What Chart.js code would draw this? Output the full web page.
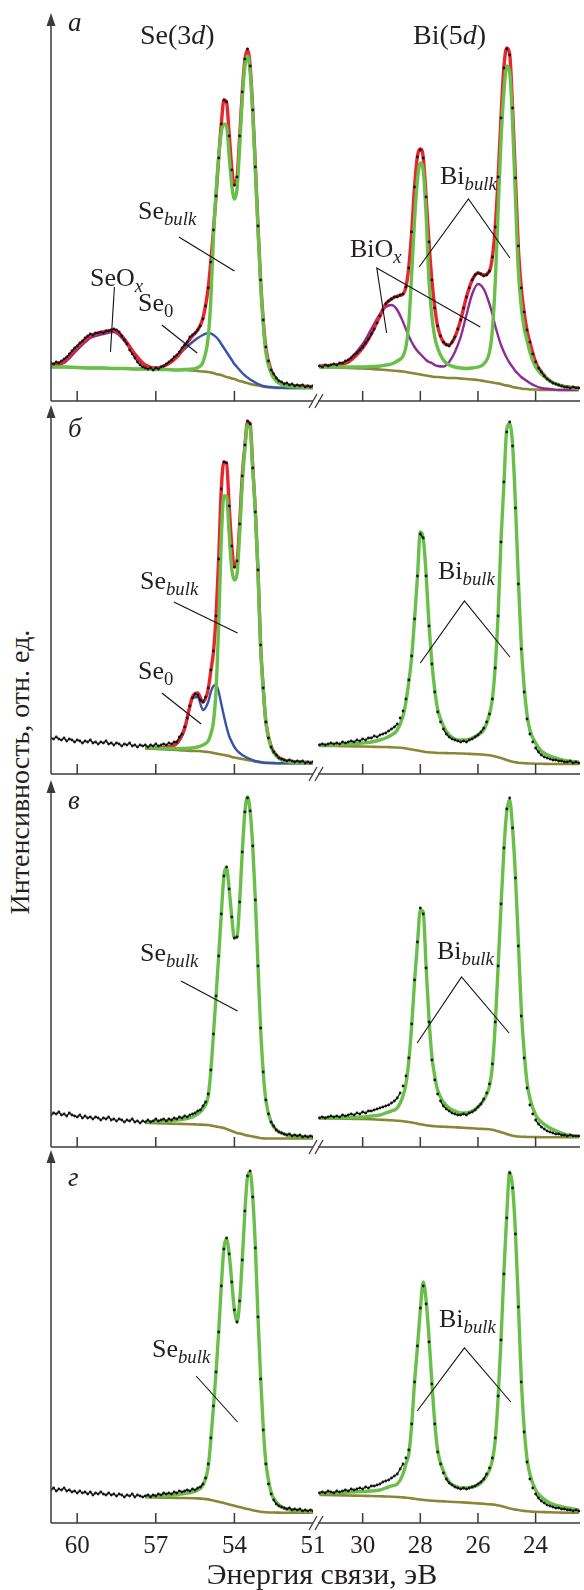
<!DOCTYPE html>
<html>
<head>
<meta charset="utf-8">
<script src="https://cdn.jsdelivr.net/npm/chart.js@4.4.1/dist/chart.umd.min.js"></script>
<style>
html, body { margin: 0; padding: 0; background: #fff; }
#page { position: relative; width: 584px; height: 1590px; overflow: hidden;
        font-family: "Liberation Serif", "Times New Roman", serif; color: #231f20; }
#page canvas { position: absolute; }
.lbl { position: absolute; white-space: nowrap; font-size: 26px; line-height: 26px; }
.lbl sub { font-size: 0.72em; vertical-align: baseline; position: relative; top: 0.3em; }
</style>
</head>
<body>
<div id="page"></div>
<script>
// tick labels
const seTicks = [60, 57, 54, 51];
const biTicks = [30, 28, 26, 24];

// energy grid of the measured points (eV)
const seE = [
  61.0, 60.9, 60.8, 60.7, 60.6, 60.5, 60.4, 60.3, 60.2, 60.1,
  60.0, 59.9, 59.8, 59.7, 59.6, 59.5, 59.4, 59.3, 59.2, 59.1,
  59.0, 58.9, 58.8, 58.7, 58.6, 58.5, 58.4, 58.3, 58.2, 58.1,
  58.0, 57.9, 57.8, 57.7, 57.6, 57.5, 57.4, 57.3, 57.2, 57.1,
  57.0, 56.9, 56.8, 56.7, 56.6, 56.5, 56.4, 56.3, 56.2, 56.1,
  56.0, 55.9, 55.8, 55.7, 55.6, 55.5, 55.4, 55.3, 55.2, 55.1,
  55.0, 54.9, 54.8, 54.7, 54.6, 54.5, 54.4, 54.3, 54.2, 54.1,
  54.0, 53.9, 53.8, 53.7, 53.6, 53.5, 53.4, 53.3, 53.2, 53.1,
  53.0, 52.9, 52.8, 52.7, 52.6, 52.5, 52.4, 52.3, 52.2, 52.1,
  52.0, 51.9, 51.8, 51.7, 51.6, 51.5, 51.4, 51.3, 51.2, 51.1,
  51.0];
const biE = [
  31.5, 31.4, 31.3, 31.2, 31.1, 31.0, 30.9, 30.8, 30.7, 30.6,
  30.5, 30.4, 30.3, 30.2, 30.1, 30.0, 29.9, 29.8, 29.7, 29.6,
  29.5, 29.4, 29.3, 29.2, 29.1, 29.0, 28.9, 28.8, 28.7, 28.6,
  28.5, 28.4, 28.3, 28.2, 28.1, 28.0, 27.9, 27.8, 27.7, 27.6,
  27.5, 27.4, 27.3, 27.2, 27.1, 27.0, 26.9, 26.8, 26.7, 26.6,
  26.5, 26.4, 26.3, 26.2, 26.1, 26.0, 25.9, 25.8, 25.7, 25.6,
  25.5, 25.4, 25.3, 25.2, 25.1, 25.0, 24.9, 24.8, 24.7, 24.6,
  24.5, 24.4, 24.3, 24.2, 24.1, 24.0, 23.9, 23.8, 23.7, 23.6,
  23.5, 23.4, 23.3, 23.2, 23.1, 23.0, 22.9, 22.8, 22.7, 22.6,
  22.5];

// energy grid of the fitted curves (eV)
const seFitE = [61, 60.5, 60, 59.5, 59, 58.6, 58.2, 57.8, 57.4, 57,
  56.6, 56.2, 55.9, 55.6, 55.4, 55.2, 55.0, 54.9, 54.8, 54.7,
  54.6, 54.5, 54.4, 54.3, 54.2, 54.1, 54.0, 53.9, 53.8, 53.7,
  53.6, 53.5, 53.4, 53.3, 53.2, 53.1, 53.0, 52.9, 52.8, 52.6,
  52.4, 52.2, 52.0, 51.5, 51.0];
const biFitE = [31.5, 31.0, 30.5, 30.0, 29.7, 29.4, 29.2, 29.0, 28.8, 28.6,
  28.5, 28.4, 28.3, 28.2, 28.1, 28.0, 27.9, 27.8, 27.7, 27.6,
  27.5, 27.4, 27.2, 27.0, 26.8, 26.6, 26.4, 26.2, 26.0, 25.8,
  25.6, 25.5, 25.4, 25.3, 25.2, 25.1, 25.0, 24.9, 24.8, 24.7,
  24.6, 24.5, 24.4, 24.3, 24.2, 24.0, 23.8, 23.5, 23.2, 22.9,
  22.5];

// ---- panel a ----
const seExpA = [
  29, 28, 30, 29, 31, 33, 35, 38, 41, 44,
  46, 49, 51, 54, 56, 58, 57, 59, 59, 60,
  59, 61, 61, 62, 63, 62, 60, 56, 52, 48,
  42, 38, 34, 30, 27, 25, 24, 23, 24, 22,
  24, 23, 25, 26, 28, 30, 32, 35, 37, 40,
  44, 47, 50, 55, 57, 59, 62, 66, 73, 86,
  104, 130, 162, 196, 234, 268, 292, 290, 256, 222,
  207, 215, 256, 300, 333, 343, 326, 282, 225, 166,
  112, 72, 45, 31, 22, 18, 14, 11, 10, 8,
  9, 7, 8, 6, 7, 6, 7, 5, 6, 5,
  6];
const seEnvA = [27, 31, 45, 56, 60, 62, 53, 38, 27, 24,
  27, 35, 46, 56, 62, 74, 104, 130, 162, 196,
  234, 268, 292, 290, 258, 224, 207, 214, 255, 300,
  332, 342, 326, 283, 226, 167, 112, 72, 44, 22,
  13, 9, 7, 6, 5.5];
const seBulkA = [25, 25, 24.5, 24, 24, 23.5, 23.5, 23, 23, 22.5,
  22.5, 22, 22.5, 23, 24.5, 30, 55, 92, 155, 200,
  235, 260, 268, 266, 236, 207, 193, 203, 245, 293,
  326, 336, 320, 278, 222, 163, 108, 68, 40, 19,
  11, 7.5, 6, 5, 4.5];
const seZeroA = [null, null, null, null, null, null, null, null, 23, 23.5,
  27, 35, 43, 50, 54, 57, 59, 58.5, 57, 55,
  52, 48, 44, 40, 36, 32, 28, 25, 22, 19,
  16.5, 14.5, 12.5, 11, 9.5, 8, 7, 6, 5.5, 5,
  4.5, 4.2, 4, 4, 4];
const seOxA = [26, 29, 42, 54, 58, 60, 51, 36, 26, 23.5, 22.5];
const seBgA = [25, 25, 24.5, 24, 24, 23.5, 23.5, 23, 23, 22.5,
  22.5, 22, 22, 21.5, 21, 20.5, 20, 19.5, 19, 18,
  17.5, 17, 16, 15, 14.5, 13.5, 13, 12, 11, 10.5,
  9.5, 9, 8, 7.5, 7, 6.5, 6, 5.5, 5, 4.5,
  4, 4, 4, 4, 4];

const biExpA = [
  26, 25, 27, 26, 27, 28, 27, 29, 29, 31,
  32, 34, 37, 39, 42, 45, 49, 53, 58, 63,
  69, 76, 82, 88, 91, 93, 95, 95, 97, 98,
  105, 124, 160, 205, 235, 242, 234, 195, 150, 112,
  84, 66, 56, 50, 47, 46, 50, 55, 63, 72,
  84, 95, 104, 112, 117, 119, 118, 116, 117, 121,
  135, 165, 215, 274, 324, 343, 337, 284, 214, 146,
  104, 80, 62, 50, 38, 30, 24, 20, 16, 13,
  11, 9, 8, 7, 6, 5, 5, 4, 5, 4,
  4];
const biEnvA = [26, 27, 30, 44, 58, 76, 88, 93, 96, 98,
  105, 125, 160, 205, 236, 243, 235, 195, 150, 112,
  85, 66, 50, 47, 55, 72, 95, 112, 119, 117,
  121, 135, 165, 215, 275, 325, 344, 338, 285, 215,
  145, 105, 80, 62, 50, 30, 20, 11, 7, 5,
  4];
const biBulkA = [25, 25, 25, 25, 25.5, 26, 27, 28, 31, 36,
  45, 68, 118, 172, 212, 229, 222, 178, 112, 76,
  55, 44, 32, 27, 25, 24, 23.5, 24, 25, 28,
  40, 62, 110, 182, 252, 300, 326, 320, 270, 195,
  122, 86, 64, 52, 40, 25, 18, 11, 7, 5,
  3];
const biOxA = [25, 26, 32, 48, 63, 78, 85, 87, 82, 70,
  63, 56, 50, 45, 41, 38, 35, 32, 30, 29,
  27, 26, 25.5, 30, 40, 55, 77, 98, 108, 103,
  88, 78, 66, 56, 47, 40, 34, 29, 25, 21,
  18, 15, 13, 11, 9, 6, 4, 3, 2, 2,
  2];
const biBgA = [25, 24.5, 24, 23.5, 23, 22.5, 22, 21.5, 21, 20.5,
  20, 19.5, 19, 18.5, 18, 17.5, 17, 16.5, 16, 15.5,
  15, 15, 14.5, 14, 14, 13.5, 13, 12.5, 12, 11,
  10, 9.5, 9, 8.5, 8, 7, 6.5, 6, 5, 4.5,
  4, 3.5, 3, 3, 2.5, 2.5, 2, 2, 2, 2,
  2];

// ---- panel б ----
const seExpB = [
  36, 35, 37, 35, 34, 36, 33, 35, 34, 32,
  34, 33, 31, 33, 32, 34, 31, 32, 30, 32,
  31, 33, 30, 31, 29, 31, 30, 28, 30, 29,
  31, 28, 29, 27, 29, 28, 29, 27, 29, 28,
  30, 28, 29, 30, 29, 31, 30, 32, 32, 37,
  40, 47, 56, 68, 76, 80, 79, 74, 72, 77,
  86, 104, 123, 158, 215, 285, 312, 311, 268, 228,
  207, 213, 250, 298, 329, 353, 350, 306, 262, 204,
  129, 86, 52, 36, 27, 22, 19, 16, 15, 14,
  13, 14, 13, 12, 13, 12, 13, 11, 12, 11,
  12];
const seEnvB = [null, null, null, null, null, null, null, null, 26, 26,
  27, 31, 46, 77, 81, 72, 85, 103, 122, 158,
  215, 285, 312, 311, 268, 228, 207, 212, 250, 298,
  328, 352, 350, 307, 263, 204, 129, 86, 53, 28,
  19, 15, 13, 12, 11.5];
const seBulkB = [null, null, null, null, null, null, null, null, 26, 26,
  25.5, 25.5, 25.5, 26, 27, 29, 33, 40, 52, 84,
  150, 235, 278, 278, 240, 205, 194, 200, 240, 290,
  325, 349, 347, 305, 262, 203, 128, 85, 52, 27,
  18, 14, 12.5, 11.5, 11];
const seZeroB = [null, null, null, null, null, null, null, null, 25.5, 25.5,
  26, 30, 44, 76, 77, 64, 72, 82, 88, 89,
  82, 70, 58, 47, 38, 32, 27, 23.5, 21, 19,
  17.5, 16, 15, 14, 13, 12.5, 12, 11.5, 11.2, 11,
  10.8, 10.7, 10.7, 10.7, 10.7];
const seBgB = [null, null, null, null, null, null, null, null, 25.5, 25,
  24.5, 24, 23.5, 23, 23, 22.5, 22, 21.5, 21, 20.5,
  20, 19.5, 19, 18.5, 18, 17, 16.5, 16, 15.5, 15,
  14.5, 14, 13.5, 13, 12.5, 12, 11.5, 11.2, 11, 11,
  10.8, 10.7, 10.7, 10.7, 10.7];

const biExpB = [
  29, 30, 29, 30, 31, 30, 31, 30, 32, 31,
  32, 33, 32, 34, 33, 35, 34, 36, 36, 38,
  37, 39, 40, 41, 43, 45, 47, 50, 56, 63,
  75, 94, 118, 155, 198, 240, 236, 198, 148, 110,
  82, 62, 52, 45, 40, 37, 35, 34, 33, 32,
  33, 32, 34, 35, 37, 39, 42, 46, 52, 60,
  75, 106, 158, 232, 292, 342, 352, 328, 266, 190,
  125, 82, 55, 40, 32, 26, 22, 19, 17, 16,
  15, 14, 14, 13, 13, 12, 12, 13, 11, 12,
  11];
const biBulkB = [29, 29, 30, 31, 32, 34, 36, 39, 44, 58,
  72, 92, 117, 155, 197, 242, 236, 200, 150, 112,
  84, 65, 48, 39, 35, 34, 34, 36, 39, 44,
  60, 75, 108, 160, 234, 290, 345, 350, 330, 270,
  195, 130, 88, 60, 44, 31, 23, 18, 15, 13,
  12];
const biBgB = [28, 28, 27.7, 27.5, 27.3, 27, 27, 26.8, 26.5, 26,
  25.5, 25, 24.5, 24, 23.5, 23, 22.5, 22, 21.7, 21.5,
  21.3, 21, 21, 20.8, 20.7, 20.5, 20.3, 20, 19.7, 19.3,
  18.7, 18.2, 17.5, 16.8, 16, 15, 14, 13, 12.3, 11.8,
  11.3, 11, 10.8, 10.6, 10.5, 10.3, 10.2, 10, 10, 10,
  10];

// ---- panel в ----
const seExpC = [
  31, 33, 32, 34, 31, 32, 30, 33, 31, 30,
  29, 31, 28, 30, 28, 29, 27, 29, 28, 26,
  28, 27, 29, 26, 27, 25, 27, 26, 24, 26,
  25, 27, 24, 25, 23, 25, 24, 26, 24, 25,
  27, 25, 26, 27, 25, 27, 26, 28, 27, 29,
  28, 30, 29, 31, 32, 33, 35, 36, 40, 44,
  52, 76, 112, 150, 190, 232, 270, 279, 257, 229,
  208, 209, 244, 294, 334, 348, 335, 300, 246, 180,
  118, 74, 46, 32, 24, 20, 16, 14, 13, 12,
  11, 12, 10, 11, 10, 11, 9, 10, 9, 10,
  9];
const seBulkC = [null, null, null, null, null, null, null, null, 24, 24.5,
  25, 26, 27, 29, 32, 37, 50, 75, 112, 150,
  190, 232, 270, 278, 257, 229, 208, 209, 244, 294,
  334, 349, 335, 300, 246, 180, 118, 74, 46, 24,
  16, 13, 11, 9.5, 9];
const seBgC = [null, null, null, null, null, null, null, null, 23, 22.8,
  22.5, 22.2, 22, 21.7, 21.5, 21.2, 21, 20.5, 20, 19.5,
  19, 18.5, 18, 17, 16, 15, 14, 13, 12.5, 12,
  11, 10.5, 10, 9.5, 9, 8.5, 8, 7.7, 7.5, 7.5,
  7.5, 7.5, 7.5, 7.5, 7.5];

const biExpC = [
  28, 29, 28, 29, 30, 29, 30, 29, 31, 30,
  31, 32, 31, 33, 32, 34, 33, 35, 35, 36,
  37, 38, 39, 40, 41, 43, 45, 48, 53, 60,
  70, 88, 122, 166, 204, 238, 232, 178, 124, 86,
  66, 52, 45, 40, 37, 35, 33, 32, 31, 31,
  32, 31, 33, 34, 36, 39, 42, 47, 53, 62,
  82, 124, 180, 242, 298, 337, 348, 318, 268, 200,
  130, 88, 58, 41, 32, 26, 22, 19, 17, 15,
  14, 13, 12, 12, 11, 11, 10, 11, 10, 10,
  10];
const biBulkC = [28, 28, 28.5, 29, 30, 31, 33, 35, 38, 50,
  62, 85, 120, 165, 202, 236, 234, 180, 128, 90,
  70, 56, 44, 38, 35, 33, 33, 35, 39, 46,
  60, 80, 122, 180, 240, 296, 335, 346, 318, 270,
  205, 138, 95, 64, 48, 31, 24, 18, 14, 11,
  9.5];
const biBgC = [27.7, 27.5, 27.2, 27, 26.7, 26.3, 26, 25.7, 25.3, 24.8,
  24.4, 24, 23.5, 23, 22.5, 21.8, 21.2, 20.7, 20.3, 20,
  19.7, 19.5, 19.3, 19, 18.7, 18.4, 18, 17.7, 17.3, 17,
  16.7, 16.2, 15.5, 14.7, 13.8, 13, 12, 11, 10.3, 9.8,
  9.5, 9.3, 9.2, 9, 9, 9, 8.8, 8.7, 8.7, 8.7,
  8.7];

// ---- panel г ----
const seExpD = [
  32, 34, 31, 33, 32, 34, 31, 32, 30, 31,
  29, 31, 29, 30, 28, 30, 27, 29, 28, 30,
  28, 27, 29, 27, 28, 26, 28, 27, 25, 27,
  26, 28, 25, 27, 26, 25, 26, 27, 25, 27,
  26, 28, 27, 29, 28, 29, 28, 30, 29, 31,
  30, 31, 32, 31, 33, 32, 34, 35, 38, 44,
  58, 84, 116, 150, 190, 236, 273, 284, 268, 240,
  212, 200, 221, 262, 311, 346, 351, 325, 274, 205,
  143, 92, 58, 38, 28, 22, 18, 16, 15, 14,
  13, 14, 12, 13, 12, 13, 11, 12, 11, 12,
  11];
const seBulkD = [null, null, null, null, null, null, null, null, 25.5, 26,
  26.5, 27.5, 28.5, 30, 32, 37, 55, 82, 115, 150,
  190, 236, 274, 283, 268, 240, 212, 200, 220, 262,
  310, 345, 350, 325, 275, 205, 145, 95, 60, 30,
  20, 15, 13, 11, 10.5];
const seBgD = [null, null, null, null, null, null, null, null, 24.7, 24.5,
  24.3, 24.1, 24, 23.8, 23.6, 23.2, 22.6, 22, 21.4, 20.8,
  20.2, 19.6, 19, 18.3, 17.6, 17, 16.3, 15.6, 15, 14.3,
  13.6, 13, 12.4, 11.8, 11.2, 10.7, 10.3, 10, 9.8, 9.5,
  9.4, 9.3, 9.3, 9.3, 9.3];

const biExpD = [
  29, 30, 29, 31, 30, 29, 31, 30, 31, 32,
  31, 33, 32, 33, 34, 33, 35, 34, 36, 36,
  37, 38, 40, 41, 42, 44, 46, 48, 53, 58,
  64, 72, 98, 140, 176, 214, 236, 218, 180, 138,
  98, 70, 58, 49, 43, 39, 37, 35, 34, 33,
  34, 33, 34, 35, 36, 38, 40, 43, 48, 54,
  64, 84, 126, 182, 248, 304, 349, 334, 288, 215,
  140, 90, 60, 43, 34, 28, 24, 21, 19, 17,
  16, 15, 14, 14, 13, 13, 12, 12, 11, 12,
  11];
const biBulkD = [29, 29, 30, 30.5, 31, 32, 34, 36, 38, 48,
  58, 68, 97, 140, 175, 212, 240, 222, 185, 140,
  100, 72, 51, 40, 36, 34, 34, 35, 37, 42,
  52, 62, 82, 125, 182, 250, 308, 350, 335, 290,
  220, 145, 95, 64, 48, 32, 25, 19, 16, 14,
  12];
const biBgD = [27, 26.8, 26.5, 26.2, 26, 25.7, 25.5, 25.3, 25, 24.6,
  24.3, 24, 23.6, 23.2, 22.8, 22.4, 22.1, 21.8, 21.5, 21.3,
  21.1, 20.9, 20.6, 20.3, 20, 19.7, 19.4, 19, 18.6, 18.2,
  17.8, 17.5, 17.2, 16.6, 16, 15.2, 14.4, 13.6, 13, 12.4,
  12, 11.5, 11.1, 10.8, 10.5, 10.2, 10, 9.7, 9.5, 9.3,
  9.3];

// colours
const GREEN = '#6abf4b', RED = '#e8262d', BLUE = '#3553a8', PURPLE = '#8c2c95', OLIVE = '#8b8636', DOTS = '#161616';

// panel frame: x-axis line, arrow top, y range
const frames = [
  {axisY: 401, topY: 13, yMin: -9, yMax: 379},
  {axisY: 774, topY: 405, yMin: 0, yMax: 369},
  {axisY: 1147, topY: 780, yMin: -1, yMax: 366},
  {axisY: 1523, topY: 1150, yMin: -1, yMax: 372}
];

const pts = (xs, ys) => ys.map((y, i) => ({x: xs[i], y: y}));
function fit(xs, ys, color, width, order) {
  return {data: pts(xs, ys), borderColor: color, borderWidth: width, pointRadius: 0,
    cubicInterpolationMode: 'monotone', fill: false, order: order};
}
function exp(xs, ys) {
  return {data: pts(xs, ys), borderColor: DOTS, borderWidth: 1.3, pointRadius: 1.4,
    pointBackgroundColor: DOTS, pointBorderWidth: 0, fill: false, order: 0,
    segment: {borderColor: c => Math.abs(c.p1.y - c.p0.y) > 5 ? 'rgba(0,0,0,0)' : DOTS}};
}

const panels = [
  {
    se: [exp(seE, seExpA), fit(seFitE, seBulkA, GREEN, 3.4, 1), fit(seFitE, seEnvA, RED, 3.4, 2),
         fit(seFitE, seZeroA, BLUE, 2.4, 3), fit(seFitE, seOxA, PURPLE, 2.4, 4), fit(seFitE, seBgA, OLIVE, 2.6, 5)],
    bi: [exp(biE, biExpA), fit(biFitE, biBulkA, GREEN, 3.4, 1), fit(biFitE, biEnvA, RED, 3.4, 2),
         fit(biFitE, biOxA, PURPLE, 2.4, 4), fit(biFitE, biBgA, OLIVE, 2.6, 5)],
    seLeaders: [[[58.58, 105], [58.73, 40]], [[56.77, 67], [55.42, 39]], [[56.12, 155], [54.0, 121]]],
    biLeaders: [[[28.04, 125], [26.33, 193], [24.89, 134]], [[29.17, 59], [29.51, 124], [25.92, 65]]]
  },
  {
    se: [exp(seE, seExpB), fit(seFitE, seBulkB, GREEN, 3.4, 1), fit(seFitE, seEnvB, RED, 3.4, 2),
         fit(seFitE, seZeroB, BLUE, 2.4, 3), fit(seFitE, seBgB, OLIVE, 2.6, 5)],
    bi: [exp(biE, biExpB), fit(biFitE, biBulkB, GREEN, 3.4, 1), fit(biFitE, biBgB, OLIVE, 2.6, 5)],
    seLeaders: [[[56.31, 172], [53.88, 141]], [[56.77, 81], [55.27, 50]]],
    biLeaders: [[[28.0, 111], [26.47, 173], [24.89, 117]]]
  },
  {
    se: [exp(seE, seExpC), fit(seFitE, seBulkC, GREEN, 3.4, 1), fit(seFitE, seBgC, OLIVE, 2.6, 5)],
    bi: [exp(biE, biExpC), fit(biFitE, biBulkC, GREEN, 3.4, 1), fit(biFitE, biBgC, OLIVE, 2.6, 5)],
    seLeaders: [[[56.04, 165], [53.88, 135]]],
    biLeaders: [[[28.11, 103], [26.57, 169], [24.92, 113]]]
  },
  {
    se: [exp(seE, seExpD), fit(seFitE, seBulkD, GREEN, 3.4, 1), fit(seFitE, seBgD, OLIVE, 2.6, 5)],
    bi: [exp(biE, biExpD), fit(biFitE, biBulkD, GREEN, 3.4, 1), fit(biFitE, biBgD, OLIVE, 2.6, 5)],
    seLeaders: [[[55.46, 146], [53.88, 100]]],
    biLeaders: [[[28.11, 111], [26.47, 174], [24.86, 120]]]
  }
];

// axis lines, inward ticks, arrow, axis break and the label leader lines
const decor = {
  id: 'decor',
  afterDraw(chart, args, o) {
    const {ctx, chartArea: a, scales: {x, y}} = chart;
    ctx.save();
    ctx.strokeStyle = '#3a3a3a';
    ctx.fillStyle = '#3a3a3a';
    ctx.lineWidth = 1.5;
    ctx.beginPath(); ctx.moveTo(a.left, a.bottom); ctx.lineTo(a.right, a.bottom); ctx.stroke();
    o.ticks.forEach(v => {
      if (v <= x.min || v >= x.max) return;
      const px = x.getPixelForValue(v);
      ctx.beginPath(); ctx.moveTo(px, a.bottom); ctx.lineTo(px, a.bottom - 10); ctx.stroke();
    });
    if (o.arrow) {
      ctx.beginPath(); ctx.moveTo(a.left, a.bottom); ctx.lineTo(a.left, a.top + 6); ctx.stroke();
      ctx.beginPath();
      ctx.moveTo(a.left, a.top);
      ctx.lineTo(a.left - 4.5, a.top + 13);
      ctx.lineTo(a.left + 4.5, a.top + 13);
      ctx.closePath(); ctx.fill();
    }
    if (o.brk) {
      ctx.lineWidth = 1.3;
      [-9, -3].forEach(d => {
        ctx.beginPath(); ctx.moveTo(a.left + d, a.bottom + 7); ctx.lineTo(a.left + d + 8, a.bottom - 7); ctx.stroke();
      });
    }
    ctx.strokeStyle = '#111';
    ctx.lineWidth = 1.1;
    o.leaders.forEach(line => {
      ctx.beginPath();
      line.forEach((p, i) => {
        const px = x.getPixelForValue(p[0]), py = y.getPixelForValue(p[1]);
        if (i) ctx.lineTo(px, py); else ctx.moveTo(px, py);
      });
      ctx.stroke();
    });
    ctx.restore();
  }
};

const page = document.getElementById('page');
function makeCanvas(left, top, w, h) {
  const c = document.createElement('canvas');
  c.width = w; c.height = h;
  c.style.left = left + 'px'; c.style.top = top + 'px';
  c.style.width = w + 'px'; c.style.height = h + 'px';
  page.appendChild(c);
  return c;
}

function spectrum(canvas, o) {
  return new Chart(canvas, {
    type: 'line',
    data: {datasets: o.datasets},
    options: {
      responsive: false, animation: false, devicePixelRatio: 1, events: [],
      layout: {padding: o.padding},
      plugins: {legend: {display: false}, tooltip: {enabled: false},
        decor: {ticks: o.ticks, arrow: o.arrow, brk: o.brk, leaders: o.leaders}},
      scales: {
        x: {type: 'linear', reverse: true, min: o.xMin, max: o.xMax, display: o.labels,
          grid: {display: false}, border: {display: false},
          afterBuildTicks: s => { s.ticks = o.ticks.map(v => ({value: v})); },
          afterFit: s => { s.height = o.labels ? 44 : 0; },
          ticks: {autoSkip: false, maxRotation: 0, padding: 0, color: '#231f20',
            font: {family: '"Liberation Serif", "Times New Roman", serif', size: 25}}},
        y: {display: false, min: o.yMin, max: o.yMax}
      }
    },
    plugins: [decor]
  });
}

panels.forEach((p, i) => {
  const f = frames[i];
  const last = i === frames.length - 1;
  const H = f.axisY - f.topY;
  const ch = H + 4 + (last ? 44 : 10);
  const padB = last ? 0 : 10;
  spectrum(makeCanvas(38, f.topY - 4, 292, ch), {
    datasets: p.se, xMin: 51, xMax: 61, yMin: f.yMin, yMax: f.yMax, ticks: seTicks,
    padding: {left: 13, right: 17, top: 4, bottom: padB}, labels: last, arrow: true, brk: false,
    leaders: p.seLeaders
  });
  spectrum(makeCanvas(304, f.topY - 4, 280, ch), {
    datasets: p.bi, xMin: 22.46, xMax: 31.55, yMin: f.yMin, yMax: f.yMax, ticks: biTicks,
    padding: {left: 14, right: 0, top: 4, bottom: padB}, labels: last, arrow: false, brk: true,
    leaders: p.biLeaders
  });
});

// texts: [html, left x, baseline y, font size]
const texts = [
  ['Se(3<i>d</i>)', 140, 45, 28], ['Bi(5<i>d</i>)', 413, 45, 28],
  ['<i>а</i>', 68, 32, 27], ['<i>б</i>', 68, 438, 27], ['<i>в</i>', 68, 810, 27], ['<i>г</i>', 68, 1187, 27],
  ['SeO<sub><i>x</i></sub>', 90, 287, 26], ['Se<sub>0</sub>', 138, 312, 26], ['Se<sub><i>bulk</i></sub>', 138, 220, 26],
  ['Bi<sub><i>bulk</i></sub>', 440, 185, 26], ['BiO<sub><i>x</i></sub>', 350, 258, 26],
  ['Se<sub><i>bulk</i></sub>', 140, 590, 26], ['Se<sub>0</sub>', 138, 680, 26], ['Bi<sub><i>bulk</i></sub>', 438, 580, 26],
  ['Se<sub><i>bulk</i></sub>', 140, 962, 26], ['Bi<sub><i>bulk</i></sub>', 437, 960, 26],
  ['Se<sub><i>bulk</i></sub>', 152, 1358, 26], ['Bi<sub><i>bulk</i></sub>', 439, 1328, 26]
];
texts.forEach(t => {
  const d = document.createElement('div');
  d.className = 'lbl';
  d.innerHTML = t[0];
  d.style.fontSize = t[3] + 'px';
  d.style.lineHeight = t[3] + 'px';
  d.style.left = t[1] + 'px';
  d.style.top = (t[2] - 0.84 * t[3]) + 'px';
  page.appendChild(d);
});

const xTitle = document.createElement('div');
xTitle.className = 'lbl';
xTitle.textContent = 'Энергия связи, эВ';
xTitle.style.fontSize = '30px';
xTitle.style.lineHeight = '30px';
xTitle.style.left = '322px';
xTitle.style.top = (1584 - 25) + 'px';
xTitle.style.transform = 'translateX(-50%)';
page.appendChild(xTitle);

const yTitle = document.createElement('div');
yTitle.className = 'lbl';
yTitle.textContent = 'Интенсивность, отн. ед.';
yTitle.style.left = '20px';
yTitle.style.top = '772px';
yTitle.style.fontSize = '28px';
yTitle.style.lineHeight = '28px';
yTitle.style.transform = 'translate(-50%, -50%) rotate(-90deg)';
page.appendChild(yTitle);
</script>
</body>
</html>
